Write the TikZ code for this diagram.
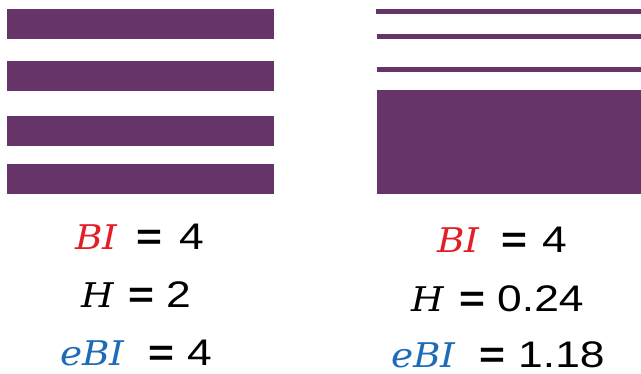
\documentclass[tikz,border=0pt]{standalone}
\usepackage{fontspec}
\setmainfont{Liberation Sans}
\newfontfamily\varfont{DejaVu Serif}
\definecolor{barpurple}{RGB}{103,52,106}
\definecolor{bired}{RGB}{228,30,38}
\definecolor{ebiblue}{RGB}{30,108,184}
\begin{document}
\begin{tikzpicture}[x=1pt,y=-1pt,
  bar/.style={fill=barpurple,draw=none},
  num/.style={anchor=base west,inner sep=0pt,text depth=0pt,xscale=1.2,font=\fontsize{37}{37}\selectfont},
  eqs/.style={num,font=\fontsize{37}{37}\selectfont\bfseries},
  var/.style={anchor=base west,inner sep=0pt,text depth=0pt,xscale=1.1,font=\fontsize{34}{34}\selectfont\varfont\itshape}]
\useasboundingbox[fill=white] (0,0) rectangle (641,374);
% left bars
\fill[bar] (7,9) rectangle (274,39);
\fill[bar] (7,61) rectangle (274,91);
\fill[bar] (7,116) rectangle (274,146);
\fill[bar] (7,164) rectangle (274,194);
% right bars
\fill[bar] (376,9) rectangle (641,14);
\fill[bar] (377,34) rectangle (641,39);
\fill[bar] (377,67) rectangle (641,72);
\fill[bar] (377,90) rectangle (641,194);
% left labels
\node[var,text=bired] (lbi) at (75,250) {BI};
\node[eqs] (lbieq) at (136,250) {=};
\node[num] (lbival) at (179,250) {4};
\node[var] (lh) at (81,308) {H};
\node[eqs] (lheq) at (128,308) {=};
\node[num] (lhval) at (166,308) {2};
\node[var,text=ebiblue] (lebi) at (60,366) {eBI};
\node[eqs] (lebieq) at (148,366) {=};
\node[num] (lebival) at (187,366) {4};
% right labels
\node[var,text=bired] (rbi) at (437,253) {BI};
\node[eqs] (rbieq) at (501,253) {=};
\node[num] (rbival) at (542,253) {4};
\node[var] (rh) at (411,312) {H};
\node[eqs] (rheq) at (459,312) {=};
\node[num] (rhval) at (497,312) {0.24};
\node[var,text=ebiblue] (rebi) at (391,368) {eBI};
\node[eqs] (rebieq) at (479,368) {=};
\node[num] (rebival) at (518,368) {1.18};
\end{tikzpicture}
\end{document}
